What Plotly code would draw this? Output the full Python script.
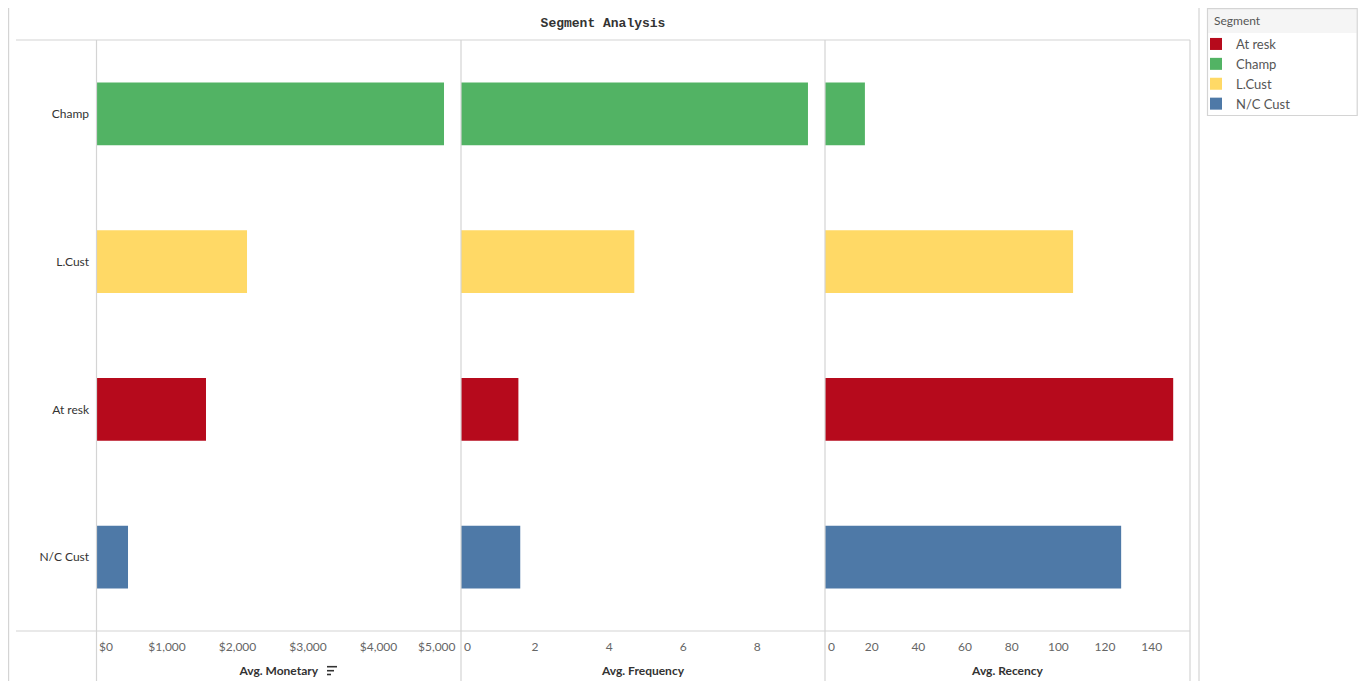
import plotly.graph_objects as go

# ---------------- data ----------------
segments = ["At resk", "Champ", "L.Cust", "N/C Cust"]
segment_colors = ["#b60a1c", "#52b364", "#ffd966", "#4e79a7"]
category_order_top_to_bottom = ["Champ", "L.Cust", "At resk", "N/C Cust"]

avg_monetary = [1553, 4929, 2135, 447]
avg_frequency = [1.55, 9.37, 4.68, 1.60]
avg_recency = [149.2, 17.1, 106.3, 126.9]

monetary_tickvals = [0, 1000, 2000, 3000, 4000, 5000]
monetary_ticktext = ["$0", "$1,000", "$2,000", "$3,000", "$4,000", "$5,000"]
frequency_tickvals = [0, 2, 4, 6, 8]
frequency_ticktext = ["0", "2", "4", "6", "8"]
recency_tickvals = [0, 20, 40, 60, 80, 100, 120, 140]
recency_ticktext = ["0", "20", "40", "60", "80", "100", "120", "140"]

# ---------------- layout helpers ----------------
# page has an 8px body margin; the figure is sized to fit inside the window
OFF = 8
W, H = 1366 - 2 * OFF, 689 - 2 * OFF


def px(x):
    return (x - OFF) / W


def py(y):
    return 1 - (y - OFF) / H


FONT = "Lato"
TICKFONT = dict(family=FONT, size=12, color="#666666")

# edge labels are pinned inside their pane (as Tableau does) -> (index, xanchor, xshift)
panels = [
    dict(values=avg_monetary, axis="x", title="Avg. Monetary", rng=[0, 5170],
         dom=[96.5, 461], tv=monetary_tickvals, tt=monetary_ticktext,
         edges=[(0, "left", 0.5), (5, "right", 9)]),
    dict(values=avg_frequency, axis="x2", title="Avg. Frequency", rng=[0, 9.83],
         dom=[461, 825], tv=frequency_tickvals, tt=frequency_ticktext,
         edges=[(0, "left", 1)]),
    dict(values=avg_recency, axis="x3", title="Avg. Recency", rng=[0, 156.4],
         dom=[825, 1190], tv=recency_tickvals, tt=recency_ticktext,
         edges=[(0, "left", 1)]),
]

fig = go.Figure()

for p_i, p in enumerate(panels):
    for seg, col, val in zip(segments, segment_colors, p["values"]):
        fig.add_trace(go.Bar(
            y=[seg], x=[val], orientation="h",
            marker=dict(color=col, line=dict(width=0)),
            name=seg, legendgroup=seg, showlegend=(p_i == 0),
            xaxis=p["axis"], yaxis="y",
        ))

axis_common = dict(
    showgrid=False, zeroline=False, showline=False, automargin=False,
    ticks="outside", ticklen=5, tickcolor="rgba(0,0,0,0)",
    tickfont=TICKFONT,
    title_font=dict(family=FONT, size=12, color="#333333"),
    title_standoff=13, fixedrange=True,
)

annotations = []
for p_i, p in enumerate(panels):
    key = "xaxis" if p_i == 0 else f"xaxis{p_i + 1}"
    edge_idx = {e[0] for e in p["edges"]}
    ticktext = ["" if i in edge_idx else t for i, t in enumerate(p["tt"])]
    fig.layout[key] = dict(
        axis_common,
        domain=[px(p["dom"][0]), px(p["dom"][1])],
        range=p["rng"], anchor="y",
        tickmode="array", tickvals=p["tv"], ticktext=ticktext,
        title_text="<b>" + p["title"] + "</b>",
    )
    for i, anchor, shift in p["edges"]:
        annotations.append(dict(
            text=p["tt"][i], xref=p["axis"], yref="paper",
            x=p["tv"][i], y=py(646.5), xanchor=anchor, yanchor="middle",
            xshift=shift, showarrow=False, font=TICKFONT,
        ))

fig.update_layout(
    yaxis=dict(
        domain=[py(631), py(40)], anchor="x", automargin=False,
        categoryorder="array",
        categoryarray=list(reversed(category_order_top_to_bottom)),
        showgrid=False, zeroline=False, showline=False,
        ticks="outside", ticklen=4, tickcolor="rgba(0,0,0,0)",
        tickfont=dict(family=FONT, size=12, color="#333333"),
        fixedrange=True,
    ),
)

# ---------------- frame lines / decorations ----------------
LINE = "#d4d4d4"
shapes = []
# outer frame verticals
for xv in (8.6, 1199):
    shapes.append(dict(type="line", xref="paper", yref="paper", x0=px(xv), x1=px(xv),
                       y0=1, y1=0, line=dict(color=LINE, width=1.2)))
# horizontal rules
for yv in (40, 631):
    shapes.append(dict(type="line", xref="paper", yref="paper", x0=px(16), x1=px(1190),
                       y0=py(yv), y1=py(yv), line=dict(color=LINE, width=1.2)))
# panel dividers
for xv in (96.5, 461, 825, 1190):
    shapes.append(dict(type="line", xref="paper", yref="paper", x0=px(xv), x1=px(xv),
                       y0=py(40), y1=0, line=dict(color=LINE, width=1.2)))
# legend box and title band
shapes.append(dict(type="rect", xref="paper", yref="paper", x0=px(1207.5), x1=px(1357.2),
                   y0=py(115.5), y1=py(8.6), fillcolor="rgba(0,0,0,0)",
                   line=dict(color=LINE, width=1.2)))
shapes.append(dict(type="rect", xref="paper", yref="paper", x0=px(1208.2), x1=px(1356.6),
                   y0=py(33), y1=py(9.2), fillcolor="#f5f5f5", line=dict(width=0), layer="below"))
# sort icon next to "Avg. Monetary"
for yv, x1v in ((666.7, 337), (670.7, 334), (674.5, 331)):
    shapes.append(dict(type="line", xref="paper", yref="paper", x0=px(327), x1=px(x1v),
                       y0=py(yv), y1=py(yv), line=dict(color="#333333", width=1.6)))

annotations.append(dict(
    text="Segment", xref="paper", yref="paper", x=px(1212), y=py(20),
    xanchor="left", yanchor="middle", showarrow=False,
    font=dict(family=FONT, size=12, color="#555555")))

fig.update_layout(
    width=W, height=H,
    margin=dict(l=0, r=0, t=0, b=0, autoexpand=False),
    paper_bgcolor="white", plot_bgcolor="white",
    barmode="overlay", bargap=0.574,
    title=dict(text="<b>Segment Analysis</b>", x=px(603), y=py(22),
               xanchor="center", yanchor="middle",
               font=dict(family="Liberation Mono", size=13, color="#333333")),
    legend=dict(
        font=dict(family=FONT, size=13, color="#555555"),
        x=px(1196), y=py(29), xanchor="left", yanchor="top",
        bgcolor="rgba(0,0,0,0)", borderwidth=0, traceorder="normal",
        itemclick=False, itemdoubleclick=False,
    ),
    shapes=shapes,
    annotations=annotations,
    hovermode="closest",
)

fig.write_html("out.html")
